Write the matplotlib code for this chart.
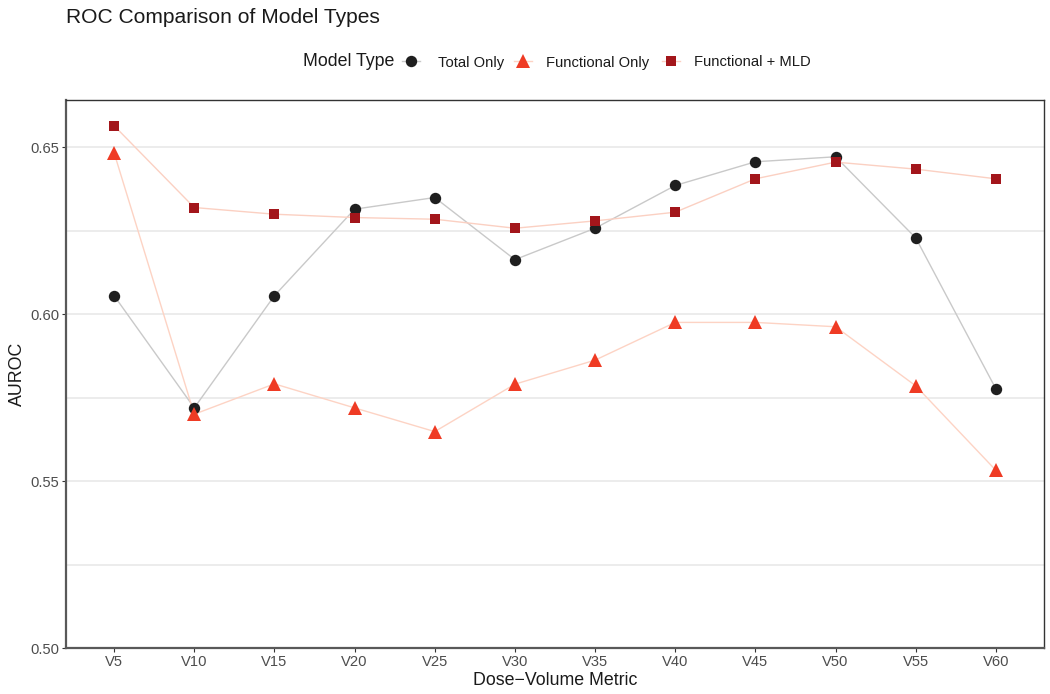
import matplotlib
matplotlib.use("Agg")
import matplotlib.pyplot as plt
from matplotlib.lines import Line2D

plt.rcParams['font.family'] = ['Liberation Sans', 'DejaVu Sans']

metrics = ["V5", "V10", "V15", "V20", "V25", "V30", "V35", "V40", "V45", "V50", "V55", "V60"]
total_only = [0.6055, 0.5719, 0.6055, 0.6314, 0.6349, 0.6163, 0.6257, 0.6385, 0.6456, 0.6471, 0.6228, 0.5776]
functional_only = [0.6483, 0.5700, 0.5791, 0.5719, 0.5648, 0.5790, 0.5862, 0.5975, 0.5975, 0.5962, 0.5785, 0.5532]
functional_mld = [0.6564, 0.6319, 0.6299, 0.6289, 0.6284, 0.6257, 0.6279, 0.6305, 0.6405, 0.6455, 0.6434, 0.6405]
series_names = ["Total Only", "Functional Only", "Functional + MLD"]
y_ticks = [0.50, 0.55, 0.60, 0.65]
y_minor = [0.525, 0.575, 0.625]

W, H = 1050, 694
fig = plt.figure(figsize=(W / 100, H / 100), dpi=100)
ax = fig.add_axes([66 / W, 1 - 648 / H, (1044 - 66) / W, (648 - 100) / H])

x = list(range(len(metrics)))
styles = [
    dict(marker='o', color='#1f1f1f', line='#c9c9c9', ms=8.2),
    dict(marker='^', color='#ef3b24', line='#fdd3c4', ms=9.8),
    dict(marker='s', color='#a3161b', line='#fbd0c2', ms=7.8),
]
data = [total_only, functional_only, functional_mld]

for yv in y_ticks + y_minor:
    ax.axhline(yv, color='#ebebeb', lw=1.3, zorder=0)

for vals, st in zip(data, styles):
    ax.plot(x, vals, color=st['line'], lw=1.0, zorder=2)
for vals, st in zip(data, styles):
    ax.plot(x, vals, linestyle='none', marker=st['marker'], color=st['color'],
            ms=st['ms'], mew=0, zorder=3)

ax.set_xlim(-0.6, len(metrics) - 0.4)
ax.set_ylim(0.50, 0.6641)
ax.set_xticks(x)
ax.set_xticklabels(metrics)
ax.set_yticks(y_ticks)
ax.set_yticklabels([f"{v:.2f}" for v in y_ticks])
ax.tick_params(axis='both', colors='#333333', labelcolor='#4d4d4d', labelsize=10.6,
               length=3, width=0.8, pad=2)

for s in ['left', 'bottom']:
    ax.spines[s].set_color('#595959')
    ax.spines[s].set_linewidth(1.6)
for s in ['top', 'right']:
    ax.spines[s].set_color('#333333')
    ax.spines[s].set_linewidth(1.0)

ax.set_xlabel("Dose\u2212Volume Metric", fontsize=12.8, color='#1a1a1a', labelpad=2)
ax.set_ylabel("AUROC", fontsize=12.8, color='#1a1a1a', labelpad=3)

fig.text(66 / W, 1 - 23 / H, "ROC Comparison of Model Types", fontsize=15.1,
         ha='left', va='baseline', color='#1a1a1a')

# legend (horizontal, title at left)
ly = 1 - 60.5 / H
lb = 1 - 66.5 / H
fig.text(303 / W, lb, "Model Type", fontsize=12.8, ha='left', va='baseline', color='#1a1a1a')
key_x = [411, 523, 671]
text_x = [438, 546, 694]
for kx, tx, name, st in zip(key_x, text_x, series_names, styles):
    fig.add_artist(Line2D([(kx - 9) / W, (kx + 9) / W], [ly, ly], transform=fig.transFigure,
                          color=st['line'], lw=1.0))
    fig.add_artist(Line2D([kx / W], [ly], transform=fig.transFigure, linestyle='none',
                          marker=st['marker'], color=st['color'], ms=st['ms'], mew=0))
    fig.text(tx / W, lb, name, fontsize=10.6, ha='left', va='baseline', color='#1a1a1a')

fig.savefig("out.png", dpi=100)
